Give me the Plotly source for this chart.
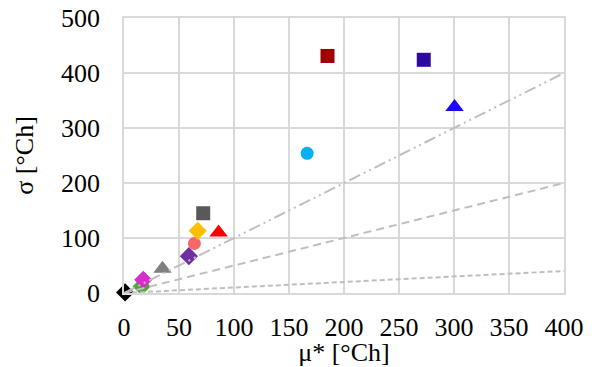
import plotly.graph_objects as go

# --- data ---
mu_values = [1, 16, 17.5, 35, 59, 64, 67, 72, 86, 166.5, 185, 272.5, 300.5]
sigma_values = [1, 12, 24, 44, 67, 90, 113, 145, 110, 254, 431, 424, 338]

ref_x = [0, 400]
ref_sigma_eq_mu = [0, 400]
ref_sigma_half_mu = [0, 200]
ref_sigma_tenth_mu = [0, 40]

x_ticks = [0, 50, 100, 150, 200, 250, 300, 350, 400]
y_ticks = [0, 100, 200, 300, 400, 500]

# --- styles ---
symbols = ["diamond", "diamond", "diamond", "triangle-up", "diamond", "circle",
           "diamond", "square", "triangle-up", "circle", "square", "square", "triangle-up"]
colors = ["#000000", "#4EA72E", "#D62ECB", "#7F7F7F", "#7030A0", "#F4686A",
          "#FFC000", "#595959", "#FF0000", "#00B0F0", "#A00000", "#2E0BA0", "#1A0AF5"]
sizes = {"diamond": 14, "square": 14, "circle": 13, "triangle-up": 16}

FONT = "'Liberation Serif', 'Times New Roman', 'DejaVu Serif', serif"
GRID = "#D9D9D9"
REF = "#BFBFBF"

fig = go.Figure()
for m, s, sym, c in zip(mu_values, sigma_values, symbols, colors):
    fig.add_trace(go.Scatter(
        x=[m], y=[s], mode="markers",
        marker=dict(symbol=sym, color=c, size=sizes[sym], line=dict(width=0)),
        showlegend=False, cliponaxis=False,
    ))

for ys, dash in [(ref_sigma_eq_mu, "12px,4px,2px,4px,2px,4px"),
                 (ref_sigma_half_mu, "8px,5px"),
                 (ref_sigma_tenth_mu, "5px,3px")]:
    fig.add_trace(go.Scatter(
        x=ref_x, y=ys, mode="lines",
        line=dict(color=REF, width=2, dash=dash),
        showlegend=False, hoverinfo="skip",
    ))

fig.update_layout(
    width=598, height=367,
    margin=dict(l=124, r=34, t=18, b=74, autoexpand=False),
    paper_bgcolor="white", plot_bgcolor="white",
    font=dict(family=FONT, size=26, color="#000000"),
)
fig.update_xaxes(
    range=[0, 400], tickvals=x_ticks, showgrid=True, gridcolor=GRID, gridwidth=1.5,
    zeroline=False, showline=True, linecolor=GRID, linewidth=1.5, mirror=True,
    ticks="", ticklabelstandoff=10, automargin=False,
    title=dict(text="μ* [°Ch]", standoff=0, font=dict(family=FONT, size=26)),
    tickfont=dict(family=FONT, size=26),
)
fig.update_yaxes(
    range=[0, 500], tickvals=y_ticks, showgrid=True, gridcolor=GRID, gridwidth=1.5,
    zeroline=False, showline=True, linecolor=GRID, linewidth=1.5, mirror=True,
    ticks="", ticklabelstandoff=17, automargin=False,
    title=dict(text="σ [°Ch]", standoff=20, font=dict(family=FONT, size=26)),
    tickfont=dict(family=FONT, size=26),
)

fig.write_html(
    "out.html",
    config={"displayModeBar": False},
    post_script="document.body.style.margin='0';document.body.style.overflow='hidden';",
)
